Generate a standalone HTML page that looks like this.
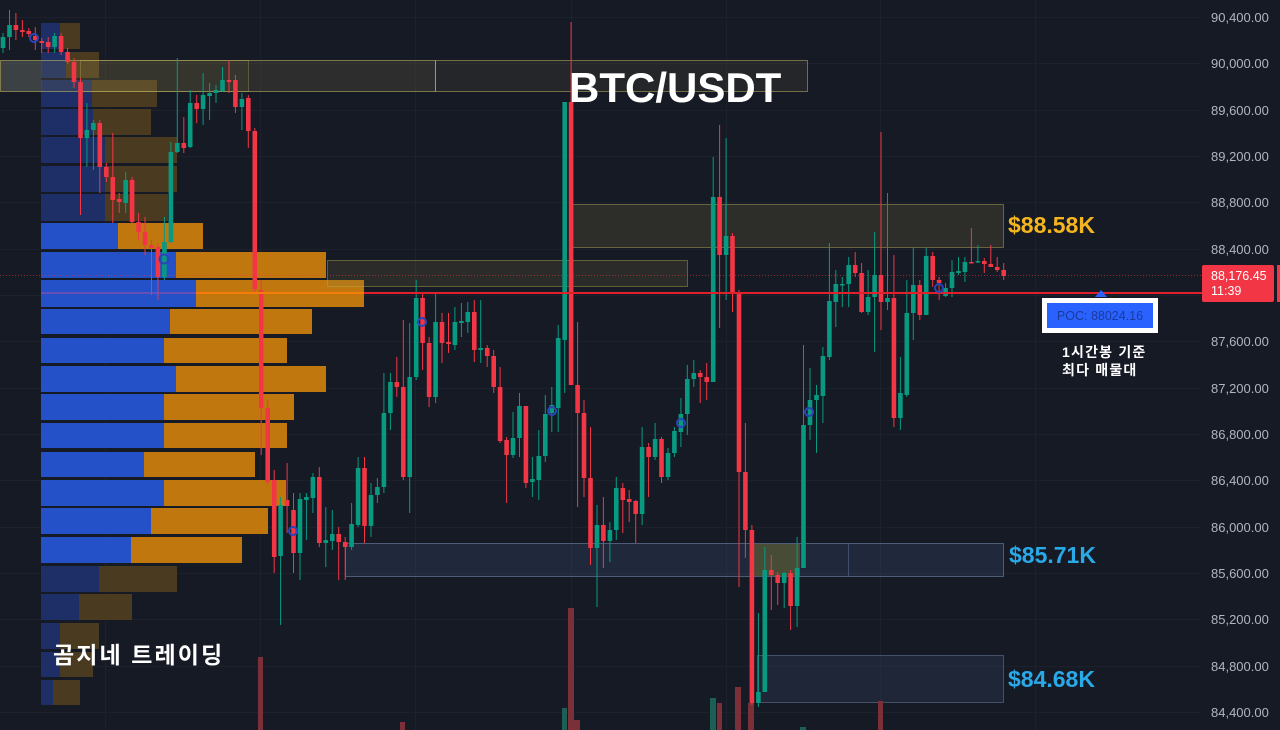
<!DOCTYPE html>
<html><head><meta charset="utf-8"><style>
html,body{margin:0;padding:0;background:#161a25;width:1280px;height:730px;overflow:hidden}
svg{display:block}
</style></head><body>
<svg width="1280" height="730" viewBox="0 0 1280 730" xmlns="http://www.w3.org/2000/svg">
<rect width="1280" height="730" fill="#161a25"/>
<!-- grid -->
<g stroke="#1d212c" stroke-width="1">
<path d="M0 17.5H1200M0 63.5H1200M0 110.5H1200M0 156.5H1200M0 202.5H1200M0 249.5H1200M0 295.5H1200M0 341.5H1200M0 388.5H1200M0 434.5H1200M0 480.5H1200M0 527.5H1200M0 573.5H1200M0 619.5H1200M0 666.5H1200M0 712.5H1200"/>
<path d="M105.5 0V730M260.5 0V730M415.5 0V730M571.5 0V730M726.5 0V730M880.5 0V730M1035.5 0V730"/>
</g>
<!-- volume profile -->
<g>
<rect x="41" y="23" width="19" height="26" fill="#1d2f66"/><rect x="60" y="23" width="20" height="26" fill="#4a3a1f"/>
<rect x="41" y="52" width="25" height="26" fill="#1d2f66"/><rect x="66" y="52" width="33" height="26" fill="#4a3a1f"/>
<rect x="41" y="80" width="51" height="27" fill="#1d2f66"/><rect x="92" y="80" width="65" height="27" fill="#4a3a1f"/>
<rect x="41" y="109" width="52" height="26" fill="#1d2f66"/><rect x="93" y="109" width="58" height="26" fill="#4a3a1f"/>
<rect x="41" y="137" width="64" height="26" fill="#1d2f66"/><rect x="105" y="137" width="72" height="26" fill="#4a3a1f"/>
<rect x="41" y="166" width="64" height="26" fill="#1d2f66"/><rect x="105" y="166" width="72" height="26" fill="#4a3a1f"/>
<rect x="41" y="194" width="64" height="27" fill="#1d2f66"/><rect x="105" y="194" width="63" height="27" fill="#4a3a1f"/>
<rect x="41" y="223" width="77" height="26" fill="#2450c8"/><rect x="118" y="223" width="85" height="26" fill="#c0780e"/>
<rect x="41" y="252" width="135" height="26" fill="#2450c8"/><rect x="176" y="252" width="150" height="26" fill="#c0780e"/>
<rect x="41" y="280" width="155" height="27" fill="#2450c8"/><rect x="196" y="280" width="168" height="27" fill="#c0780e"/>
<rect x="41" y="309" width="129" height="25" fill="#2450c8"/><rect x="170" y="309" width="142" height="25" fill="#c0780e"/>
<rect x="41" y="338" width="123" height="25" fill="#2450c8"/><rect x="164" y="338" width="123" height="25" fill="#c0780e"/>
<rect x="41" y="366" width="135" height="26" fill="#2450c8"/><rect x="176" y="366" width="150" height="26" fill="#c0780e"/>
<rect x="41" y="394" width="123" height="26" fill="#2450c8"/><rect x="164" y="394" width="130" height="26" fill="#c0780e"/>
<rect x="41" y="423" width="123" height="25" fill="#2450c8"/><rect x="164" y="423" width="123" height="25" fill="#c0780e"/>
<rect x="41" y="452" width="103" height="25" fill="#2450c8"/><rect x="144" y="452" width="111" height="25" fill="#c0780e"/>
<rect x="41" y="480" width="123" height="26" fill="#2450c8"/><rect x="164" y="480" width="122" height="26" fill="#c0780e"/>
<rect x="41" y="508" width="110" height="26" fill="#2450c8"/><rect x="151" y="508" width="117" height="26" fill="#c0780e"/>
<rect x="41" y="537" width="90" height="26" fill="#2450c8"/><rect x="131" y="537" width="111" height="26" fill="#c0780e"/>
<rect x="41" y="566" width="58" height="26" fill="#1d2f66"/><rect x="99" y="566" width="78" height="26" fill="#4a3a1f"/>
<rect x="41" y="594" width="38" height="26" fill="#1d2f66"/><rect x="79" y="594" width="53" height="26" fill="#4a3a1f"/>
<rect x="41" y="623" width="19" height="26" fill="#1d2f66"/><rect x="60" y="623" width="39" height="26" fill="#4a3a1f"/>
<rect x="41" y="652" width="19" height="25" fill="#1d2f66"/><rect x="60" y="652" width="33" height="25" fill="#4a3a1f"/>
<rect x="41" y="680" width="12" height="25" fill="#1d2f66"/><rect x="53" y="680" width="27" height="25" fill="#4a3a1f"/>
</g>
<!-- zones -->
<rect x="0.5" y="60.5" width="41" height="31" fill="rgba(110,130,170,0.22)"/>
<rect x="0.5" y="60.5" width="435" height="31" fill="rgba(160,150,80,0.16)" stroke="rgba(200,190,100,0.55)"/>
<rect x="80.5" y="60.5" width="168" height="31" fill="rgba(160,150,80,0.08)" stroke="rgba(200,190,100,0.3)"/>
<rect x="435.5" y="60.5" width="372" height="31" fill="rgba(130,120,70,0.13)" stroke="rgba(200,190,100,0.5)"/>
<rect x="571.5" y="204.5" width="432" height="43" fill="rgba(140,130,60,0.2)" stroke="rgba(190,180,90,0.45)"/>
<path d="M725.5 205V247" stroke="rgba(190,180,90,0.25)"/>
<rect x="327.5" y="260.5" width="360" height="26" fill="rgba(130,120,60,0.2)" stroke="rgba(180,170,80,0.45)"/>
<rect x="345.5" y="543.5" width="658" height="33" fill="rgba(70,95,145,0.22)" stroke="rgba(130,150,190,0.5)"/>
<path d="M848.5 544V576" stroke="rgba(130,150,190,0.35)"/>
<rect x="752" y="544" width="48" height="32" fill="rgba(150,140,40,0.35)"/>
<rect x="757.5" y="655.5" width="246" height="47" fill="rgba(60,80,125,0.22)" stroke="rgba(120,140,180,0.45)"/>
<!-- volume bars -->
<g fill="#7b2f38">
<rect x="258" y="657" width="5" height="73"/><rect x="400" y="722" width="5" height="8"/><rect x="568" y="608" width="6" height="122"/><rect x="574" y="720" width="6" height="10"/><rect x="717" y="703" width="5" height="27"/><rect x="735" y="687" width="6" height="43"/><rect x="748" y="703" width="6" height="27"/><rect x="878" y="701" width="5" height="29"/>
</g>
<g fill="#1d5f55">
<rect x="562" y="708" width="5" height="22"/><rect x="710" y="698" width="6" height="32"/><rect x="800" y="727" width="6" height="3"/>
</g>
<!-- price line -->
<path d="M0 275.5H1202" stroke="rgba(242,54,69,0.55)" stroke-width="1" stroke-dasharray="1 2"/>
<!-- candles -->
<path fill="none" stroke="#089981" stroke-width="1" d="M3 33V53M9.5 10V50M54.6 33V53M86.9 103V167M93.4 120V170M125.7 172V213M164.4 217V280M170.9 142V243M177.3 58V153M190.2 90V148M203.1 73V125M209.6 83V120M216 85V103M222.5 67V92M241.9 93V130M280.6 497V625M300 493V580M306.4 493V540M312.9 473V513M325.8 507V567M332.3 510V550M351.6 503V550M358.1 457V527M371 483V537M377.4 478V503M383.9 373V493M390.4 373V430M409.7 323V513M416.2 280V380M435.6 293V403M454.9 307V350M461.4 303V337M467.8 302V333M480.7 300V363M513 412V458M519.5 393V457M532.4 457V497M538.8 430V500M545.3 395V462M551.8 387V432M558.2 325V432M564.7 102V393M597 505V607M609.9 522V562M616.3 477V540M642.1 427V525M655.1 423V460M668 448V480M674.4 427V457M680.9 398V447M687.3 365V435M693.8 360V387M713.2 157V382M726.1 138V300M758.4 613V707M764.8 547V692M784.2 572V608M797.1 537V627M803.5 345V568M810 368V440M816.5 385V453M822.9 347V423M829.4 243V360M835.8 270V327M842.3 277V307M848.7 257V307M868.1 270V315M874.6 232V352M887.5 193V310M900.4 357V430M906.8 280V397M913.3 247V340M926.2 248V315M945.6 283V297M952 260V297M958.5 257V275M964.9 257V282M977.9 245V263"/>
<path fill="none" stroke="#089981" stroke-width="4.6" d="M3 37V48M9.5 25V37M54.6 36V47M86.9 130V138M93.4 123V130M125.7 180V203M164.4 242V277M170.9 152V242M177.3 143V152M190.2 103V147M203.1 95V109M209.6 93V96M216 90V93M222.5 80V91M241.9 99V107M280.6 505V556M300 499V553M306.4 497V500M312.9 477V498M325.8 540V543M332.3 534V541M351.6 524V547M358.1 468V525M371 495V526M377.4 487V495M383.9 413V487M390.4 382V413M409.7 377V477M416.2 298V377M435.6 322V397M454.9 322V345M461.4 321V323M467.8 312V322M480.7 348V350M513 438V455M519.5 406V438M532.4 479V482M538.8 456V480M545.3 414V456M551.8 405V413M558.2 338V408M564.7 102V340M597 525V548M609.9 530V541M616.3 488V530M642.1 447V514M655.1 439V457M668 453V477M674.4 431V453M680.9 414V432M687.3 379V414M693.8 373V379M713.2 197V382M726.1 236V255M758.4 692V703M764.8 570V692M784.2 573V583M797.1 568V606M803.5 425V568M810 400V425M816.5 395V400M822.9 356V396M829.4 301V357M835.8 284V302M842.3 284V285.5M848.7 265V284M868.1 297V312M874.6 275V297M887.5 298V302M900.4 393V418M906.8 313V395M913.3 285V313M926.2 256V315M945.6 288V296M952 272V288M958.5 271V273M964.9 262V272M977.9 261V262.5"/>
<path fill="none" stroke="#f23645" stroke-width="1" d="M15.9 13V40M22.4 20V37M28.8 28V37M35.3 27V50M41.7 38V53M48.2 37V53M61.1 33V55M67.6 48V64M74 58V88M80.5 78V215M99.8 120V193M106.3 163V182M112.8 133V223M119.2 193V213M132.1 177V223M138.6 213V240M145 217V255M151.5 240V295M157.9 243V300M183.8 117V153M196.7 95V123M229 60V93M235.4 75V113M248.3 95V148M254.8 128V292M261.2 280V455M267.7 400V485M274.2 470V573M287.1 463V533M293.5 493V573M319.3 467V547M338.7 527V580M345.2 537V580M364.5 457V543M396.8 357V397M403.3 320V480M422.6 293V370M429.1 337V407M442 313V363M448.5 313V353M474.3 300V362M487.2 345V367M493.7 350V393M500.1 367V443M506.6 437V503M525.9 406V488M571.1 22V385M577.6 322V507M584 400V497M590.5 427V565M603.4 497V568M622.8 483V533M629.2 490V522M635.7 500V543M648.6 443V497M661.5 437V483M700.2 370V403M706.7 363V400M719.6 125V328M732.5 233V312M739 290V587M745.4 423V558M751.9 525V705M771.3 555V610M777.7 572V605M790.6 570V630M855.2 252V277M861.6 263V313M881 132V330M893.9 255V427M919.8 280V320M932.7 252V287M939.1 277V300M971.4 228V263M984.3 258V273M990.8 245V267M997.2 257V272M1003.7 263V280"/>
<path fill="none" stroke="#f23645" stroke-width="4.6" d="M15.9 25V30M22.4 30V32M28.8 31V34M35.3 36V40M41.7 41V43M48.2 42V47M61.1 36V52M67.6 52V62M74 62V82M80.5 82V138M99.8 123V167M106.3 167V177M112.8 177V200M119.2 199V202M132.1 180V222M138.6 222V232M145 232V245M151.5 245V248M157.9 247V277M183.8 143V148M196.7 103V109M229 80V82M235.4 80V107M248.3 98V131M254.8 131V289M261.2 290V408M267.7 408V482M274.2 480V557M287.1 500V506M293.5 510V553M319.3 477V543M338.7 534V542M345.2 542V547M364.5 468V526M396.8 382V387M403.3 387V477M422.6 298V343M429.1 343V397M442 322V343M448.5 342V344M474.3 312V350M487.2 348V356M493.7 356V387M500.1 387V441M506.6 440V455M525.9 406V483M571.1 102V385M577.6 385V413M584 413V478M590.5 478V548M603.4 525V541M622.8 488V500M629.2 499V502M635.7 501V514M648.6 447V457M661.5 439V477M700.2 373V377M706.7 377V382M719.6 197V255M732.5 236V293M739 293V472M745.4 472V530M751.9 530V703M771.3 570V575M777.7 575V583M790.6 573V606M855.2 265V273M861.6 273V312M881 275V302M893.9 298V418M919.8 285V315M932.7 256V280M939.1 280V283M971.4 262V263.5M984.3 261V264M990.8 264V267M997.2 267V270M1003.7 270V276"/>
<!-- POC line -->
<path d="M41 293H196" stroke="#7d4fb0" stroke-width="1.5"/>
<path d="M196 293H364" stroke="#f57c0a" stroke-width="2"/>
<path d="M364 293H1202" stroke="#e0202b" stroke-width="2"/>
<!-- markers -->
<g fill="none" stroke="#2b45b8" stroke-width="2">
<circle cx="34" cy="38" r="4"/><circle cx="164" cy="259" r="4.5"/><circle cx="293" cy="531" r="4"/><circle cx="422" cy="322" r="4"/><circle cx="552" cy="411" r="4"/><circle cx="681" cy="423" r="4"/><circle cx="809" cy="412" r="4"/><circle cx="939" cy="288" r="4"/>
</g>
<!-- POC label -->
<path d="M1095 297L1101 290L1107 297Z" fill="#2962ff"/>
<rect x="1042" y="298" width="116" height="35" fill="#ffffff"/>
<rect x="1047" y="303" width="106" height="25" fill="#2962ff"/>
<text x="1100" y="320" text-anchor="middle" font-family="Liberation Sans, sans-serif" font-size="12.5" fill="#1b3a9e">POC: 88024.16</text>
<text x="1062" y="357" font-family="Liberation Sans, Noto Sans CJK KR, sans-serif" font-size="14" letter-spacing="1.2" font-weight="bold" fill="#ffffff">1시간봉 기준</text>
<text x="1062" y="375" font-family="Liberation Sans, Noto Sans CJK KR, sans-serif" font-size="14" letter-spacing="1.2" font-weight="bold" fill="#ffffff">최다 매물대</text>
<!-- big labels -->
<text x="569" y="102" font-family="Liberation Sans, sans-serif" font-size="42" font-weight="bold" fill="#ffffff">BTC/USDT</text>
<text x="1008" y="233" font-family="Liberation Sans, sans-serif" font-size="23" font-weight="bold" fill="#f5b51f">$88.58K</text>
<text x="1009" y="563" font-family="Liberation Sans, sans-serif" font-size="23" font-weight="bold" fill="#29a9e8">$85.71K</text>
<text x="1008" y="687" font-family="Liberation Sans, sans-serif" font-size="23" font-weight="bold" fill="#29a9e8">$84.68K</text>
<text x="53" y="663" font-family="Liberation Sans, Noto Sans CJK KR, sans-serif" font-size="23" letter-spacing="2.1" font-weight="bold" fill="#ffffff">곰지네 트레이딩</text>
<!-- axis labels -->
<g font-family="Liberation Sans, sans-serif" font-size="13" fill="#b2b5be">
<text x="1211" y="22">90,400.00</text>
<text x="1211" y="68">90,000.00</text>
<text x="1211" y="115">89,600.00</text>
<text x="1211" y="161">89,200.00</text>
<text x="1211" y="207">88,800.00</text>
<text x="1211" y="254">88,400.00</text>
<text x="1211" y="346">87,600.00</text>
<text x="1211" y="393">87,200.00</text>
<text x="1211" y="439">86,800.00</text>
<text x="1211" y="485">86,400.00</text>
<text x="1211" y="532">86,000.00</text>
<text x="1211" y="578">85,600.00</text>
<text x="1211" y="624">85,200.00</text>
<text x="1211" y="671">84,800.00</text>
<text x="1211" y="717">84,400.00</text>
</g>
<rect x="1202" y="265" width="72" height="37" rx="2" fill="#f23645"/>
<rect x="1277" y="265" width="3" height="37" fill="#f23645"/>
<text x="1211" y="280" font-family="Liberation Sans, sans-serif" font-size="12.5" fill="#ffffff">88,176.45</text>
<text x="1211" y="295" font-family="Liberation Sans, sans-serif" font-size="12.5" fill="#ffffff">11:39</text>
</svg>
</body></html>
